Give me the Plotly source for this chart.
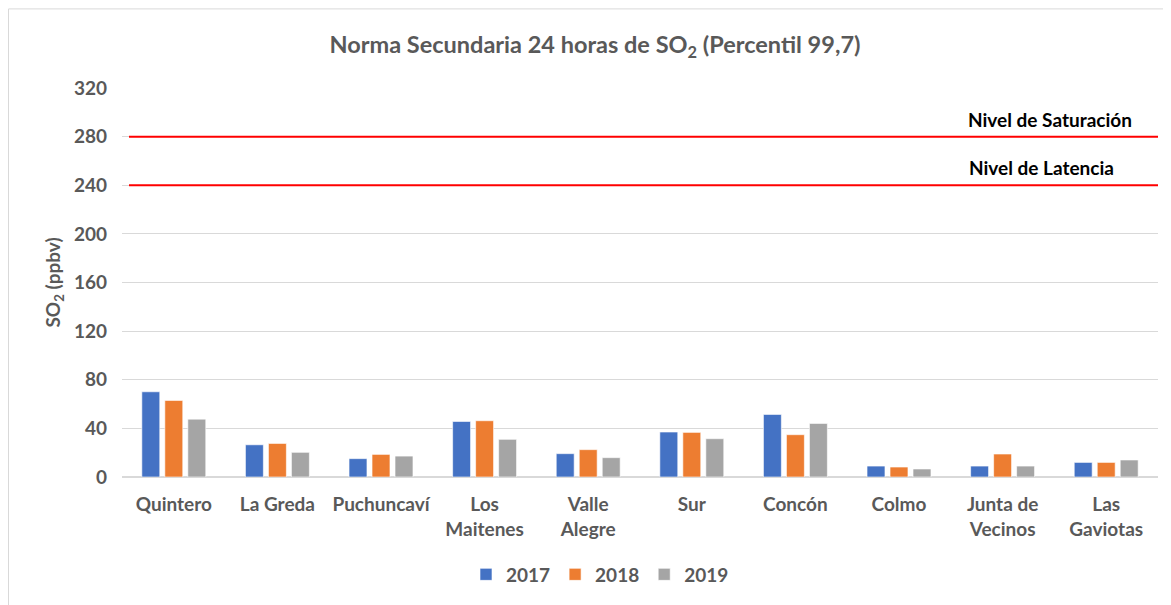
import plotly.graph_objects as go

categories = ["Quintero", "La Greda", "Puchuncaví", "Los<br>Maitenes", "Valle<br>Alegre",
              "Sur", "Concón", "Colmo", "Junta de<br>Vecinos", "Las<br>Gaviotas"]
years = ["2017", "2018", "2019"]
v2017 = [70.1, 26.5, 15.1, 45.7, 19.2, 37.0, 51.5, 9.0, 9.0, 12.0]
v2018 = [63.0, 27.6, 18.6, 46.3, 22.5, 36.7, 34.8, 8.2, 18.9, 12.0]
v2019 = [47.6, 20.3, 17.2, 31.0, 15.9, 31.5, 44.1, 6.6, 9.0, 14.0]
colors = ["#4472C4", "#ED7D31", "#A5A5A5"]
limit_values = [280, 240]
limit_labels = ["Nivel de Saturación", "Nivel de Latencia"]
y_ticks = [0, 40, 80, 120, 160, 200, 240, 280, 320]

FONT = "Lato"
GRAY = "#595959"
FS = 19

fig = go.Figure()
for name, vals, col in zip(years, [v2017, v2018, v2019], colors):
    fig.add_trace(go.Bar(x=categories, y=vals, name=name, marker_color=col,
                         marker_line=dict(color="rgba(255,255,255,0.6)", width=1)))

# page offset (body margin) of 8px
OFF = 8
PW, PH = 1171, 605
PL, PR, PT, PB = 122, 13, 88, 126  # plot area in page pixels
W, H = PW - OFF, PH - OFF
L, T = PL - OFF, PT - OFF
R, B = PR, PB
pw, ph = PW - PL - PR, PH - PT - PB


def px(xp):
    return (xp - PL) / pw


def py(yp):
    return (PH - PB - yp) / ph


shapes = []
for v in limit_values:
    shapes.append(dict(type="line", xref="paper", yref="y", x0=px(129), x1=1.0,
                       y0=v, y1=v, line=dict(color="#FF0000", width=2)))
# outer border
shapes.append(dict(type="rect", xref="paper", yref="paper",
                   x0=px(OFF + 0.5), x1=px(1185),
                   y0=py(620), y1=py(OFF + 0.5),
                   line=dict(color="#D9D9D9", width=1), fillcolor="rgba(0,0,0,0)", layer="below"))

annotations = []
label_x = [1050, 1041]
for v, lab, lx in zip(limit_values, limit_labels, label_x):
    annotations.append(dict(x=px(lx), xref="paper", y=v, yref="y", yshift=4,
                            text=lab, showarrow=False,
                            font=dict(family=FONT, size=FS, color="#000000", weight="bold"),
                            xanchor="center", yanchor="bottom"))

fig.update_layout(
    width=W, height=H,
    margin=dict(l=L, r=R, t=T, b=B),
    paper_bgcolor="white", plot_bgcolor="white",
    title=dict(text="Norma Secundaria 24 horas de SO<sub>2</sub> (Percentil 99,7)",
               x=(595 - OFF) / W, xanchor="center", y=1 - (45 - OFF) / H, yanchor="middle",
               font=dict(family=FONT, size=23.5, color=GRAY, weight="bold")),
    barmode="group", bargap=0.334, bargroupgap=0.22,
    legend=dict(orientation="h", x=px(600), xanchor="center", y=py(577), yanchor="middle",
                font=dict(family=FONT, size=FS, color=GRAY, weight="bold"),
                itemwidth=30, traceorder="normal"),
    xaxis=dict(tickfont=dict(family=FONT, size=FS, color=GRAY, weight="bold"),
               showline=True, linecolor="#D9D9D9", linewidth=1, ticks="",
               ticklabelstandoff=10),
    yaxis=dict(range=[0, 320], tickvals=y_ticks, showgrid=True, gridcolor="#D9D9D9", gridwidth=1,
               zeroline=True, zerolinecolor="#D9D9D9",
               tickfont=dict(family=FONT, size=FS, color=GRAY, weight="bold"),
               ticklabelstandoff=14,
               title=dict(text="SO<sub>2</sub> (ppbv)", standoff=8,
                          font=dict(family=FONT, size=FS, color=GRAY, weight="bold"))),
    shapes=shapes, annotations=annotations,
)

fig.write_html("out.html")
